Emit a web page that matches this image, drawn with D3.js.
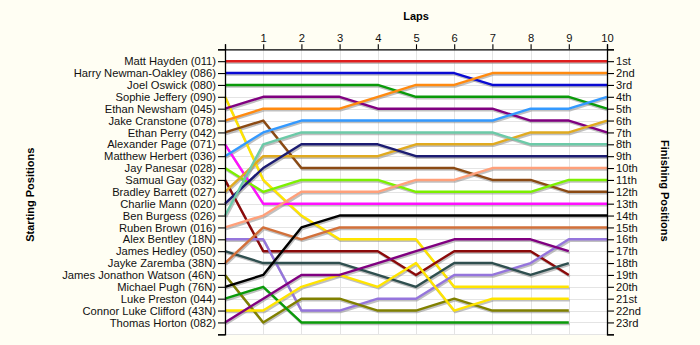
<!DOCTYPE html>
<html>
<head>
<meta charset="utf-8">
<script src="https://cdn.jsdelivr.net/npm/d3@7"></script>
<style>
  html, body { margin: 0; padding: 0; background: #fffef3; }
  svg { display: block; }
  text { font-family: "Liberation Sans", Arial, sans-serif; }
</style>
</head>
<body>
<svg id="chart" width="700" height="345"></svg>
<script>
// Race lap chart: running position of each driver at the end of every lap.

const drivers = [
  "Matt Hayden (011)", "Harry Newman-Oakley (086)", "Joel Oswick (080)",
  "Sophie Jeffery (090)", "Ethan Newsham (045)", "Jake Cranstone (078)",
  "Ethan Perry (042)", "Alexander Page (071)", "Matthew Herbert (036)",
  "Jay Panesar (028)", "Samual Gay (032)", "Bradley Barrett (027)",
  "Charlie Mann (020)", "Ben Burgess (026)", "Ruben Brown (016)",
  "Alex Bentley (18N)", "James Hedley (050)", "Jayke Zaremba (38N)",
  "James Jonathon Watson (46N)", "Michael Pugh (76N)", "Luke Preston (044)",
  "Connor Luke Clifford (43N)", "Thomas Horton (082)"
];

// Position after each lap (index 0 = grid slot). Lapped drivers stop at lap 9.
const mattHayden        = [1, 1, 1, 1, 1, 1, 1, 1, 1, 1, 1];
const harryNewmanOakley = [2, 2, 2, 2, 2, 2, 2, 3, 3, 3, 3];
const joelOswick        = [3, 3, 3, 3, 3, 4, 4, 4, 4, 4, 5];
const sophieJeffery     = [4, 11, 14, 16, 16, 16, 20, 20, 20, 20];
const ethanNewsham      = [5, 4, 4, 4, 5, 5, 5, 5, 6, 6, 7];
const jakeCranstone     = [6, 5, 5, 5, 4, 3, 3, 2, 2, 2, 2];
const ethanPerry        = [7, 6, 10, 10, 10, 10, 10, 11, 11, 12, 12];
const alexanderPage     = [8, 13, 13, 13, 13, 13, 13, 13, 13, 13, 13];
const matthewHerbert    = [9, 7, 6, 6, 6, 6, 6, 6, 5, 5, 4];
const jayPanesar        = [10, 12, 11, 11, 11, 12, 12, 12, 12, 11, 11];
const samualGay         = [11, 17, 17, 17, 17, 19, 17, 17, 17, 19];
const bradleyBarrett    = [12, 9, 9, 9, 9, 8, 8, 8, 7, 7, 6];
const charlieMann       = [13, 10, 8, 8, 8, 9, 9, 9, 9, 9, 9];
const benBurgess        = [14, 8, 7, 7, 7, 7, 7, 7, 8, 8, 8];
const rubenBrown        = [15, 14, 12, 12, 12, 11, 11, 10, 10, 10, 10];
const alexBentley       = [16, 16, 22, 22, 21, 21, 19, 19, 18, 16, 16];
const jamesHedley       = [17, 18, 18, 18, 19, 20, 18, 18, 19, 18];
const jaykeZaremba      = [18, 15, 16, 15, 15, 15, 15, 15, 15, 15, 15];
const jamesWatson       = [19, 23, 21, 21, 22, 22, 21, 22, 22, 22];
const michaelPugh       = [20, 19, 15, 14, 14, 14, 14, 14, 14, 14, 14];
const lukePreston       = [21, 20, 23, 23, 23, 23, 23, 23, 23, 23];
const connorClifford    = [22, 22, 20, 19, 20, 18, 22, 21, 21, 21];
const thomasHorton      = [23, 21, 19, 19, 18, 17, 16, 16, 16, 17];

const positions = [
  mattHayden, harryNewmanOakley, joelOswick, sophieJeffery, ethanNewsham,
  jakeCranstone, ethanPerry, alexanderPage, matthewHerbert, jayPanesar,
  samualGay, bradleyBarrett, charlieMann, benBurgess, rubenBrown,
  alexBentley, jamesHedley, jaykeZaremba, jamesWatson, michaelPugh,
  lukePreston, connorClifford, thomasHorton
];

const lapLabels = ["1", "2", "3", "4", "5", "6", "7", "8", "9", "10"];
const finishLabels = [
  "1st", "2nd", "3rd", "4th", "5th", "6th", "7th", "8th", "9th", "10th",
  "11th", "12th", "13th", "14th", "15th", "16th", "17th", "18th", "19th",
  "20th", "21st", "22nd", "23rd"
];

const palette = [
  "#e01e1e", "#0a0ad2", "#0a9a0a", "#ffe400", "#800080",
  "#ff8a10", "#8b4a13", "#ff10ff", "#3399ff", "#7cf000",
  "#8b0a0a", "#e0aa20", "#1c1c72", "#6ccaa8", "#ffa07a",
  "#9575dc", "#2f4f4f", "#d2703a", "#808000", "#000000",
  "#0a9a0a", "#ffe400", "#800080"
];

const svg = d3.select("#chart");
const plotLeft = 225, plotRight = 607, plotTop = 49.3, plotBottom = 334.3;

const x = d3.scaleLinear().domain([0, 10]).range([plotLeft, plotRight]);
const y = d3.scaleLinear().domain([0, 24]).range([plotTop, plotBottom]);

// plot background and grid
svg.append("rect")
  .attr("x", plotLeft).attr("y", plotTop)
  .attr("width", plotRight - plotLeft).attr("height", plotBottom - plotTop)
  .attr("fill", "#ffffff");

const grid = svg.append("g").attr("stroke", "#e4e4e4").attr("stroke-width", 1);
grid.selectAll("line.h").data(d3.range(1, 25)).join("line")
  .attr("class", "h")
  .attr("x1", plotLeft).attr("x2", plotRight)
  .attr("y1", d => Math.round(y(d)) + 0.5).attr("y2", d => Math.round(y(d)) + 0.5);
grid.selectAll("line.v").data(d3.range(1, 10)).join("line")
  .attr("class", "v")
  .attr("y1", plotTop).attr("y2", plotBottom)
  .attr("x1", d => Math.round(x(d)) + 0.5).attr("x2", d => Math.round(x(d)) + 0.5);

// driver lines
const line = d3.line().x((d, i) => x(i)).y(d => y(d));

const shadows = svg.append("g").attr("transform", "translate(1,1.6)");
shadows.selectAll("path").data(positions).join("path")
  .attr("d", line)
  .attr("fill", "none")
  .attr("stroke", "#8c8c8c")
  .attr("stroke-opacity", 0.55)
  .attr("stroke-width", 2.4)
  .attr("stroke-linejoin", "round");

const lines = svg.append("g");
lines.selectAll("path").data(positions).join("path")
  .attr("d", line)
  .attr("fill", "none")
  .attr("stroke", (d, i) => palette[i])
  .attr("stroke-width", 2.4)
  .attr("stroke-linejoin", "round");

// axes
const fmtTick = (labels) => d => (d >= 1 && d <= labels.length ? labels[d - 1] : "");

const topAxis = d3.axisTop(x)
  .tickValues(d3.range(0, 11))
  .tickFormat(fmtTick(lapLabels))
  .tickSize(5).tickPadding(2);
const leftAxis = d3.axisLeft(y)
  .tickValues(d3.range(0, 25))
  .tickFormat(fmtTick(drivers))
  .tickSize(7).tickPadding(2);
const rightAxis = d3.axisRight(y)
  .tickValues(d3.range(0, 25))
  .tickFormat(fmtTick(finishLabels))
  .tickSize(7).tickPadding(2);

function styleAxis(g) {
  g.select(".domain").attr("stroke", "#000").attr("stroke-width", 1.3);
  g.selectAll(".tick line").attr("stroke", "#000").attr("stroke-width", 1.1);
  g.selectAll("text").attr("fill", "#111").style("font-size", "11.2px")
    .style("font-family", "'Liberation Sans', Arial, sans-serif");
}

svg.append("g").attr("transform", `translate(0,${plotTop})`).call(topAxis).call(styleAxis);
svg.append("g").attr("transform", `translate(${plotLeft},0)`).call(leftAxis).call(styleAxis);
svg.append("g").attr("transform", `translate(${plotRight},0)`).call(rightAxis).call(styleAxis);

// axis titles
svg.append("text")
  .attr("x", (plotLeft + plotRight) / 2).attr("y", 20)
  .attr("text-anchor", "middle")
  .style("font-size", "11px").style("font-weight", "bold")
  .text("Laps");

svg.append("text")
  .attr("transform", `translate(34,${(plotTop + plotBottom) / 2 + 3}) rotate(-90)`)
  .attr("text-anchor", "middle")
  .style("font-size", "11px").style("font-weight", "bold")
  .text("Starting Positions");

svg.append("text")
  .attr("transform", `translate(661,${(plotTop + plotBottom) / 2 - 1}) rotate(90)`)
  .attr("text-anchor", "middle")
  .style("font-size", "11px").style("font-weight", "bold")
  .text("Finishing Positions");
</script>
</body>
</html>
